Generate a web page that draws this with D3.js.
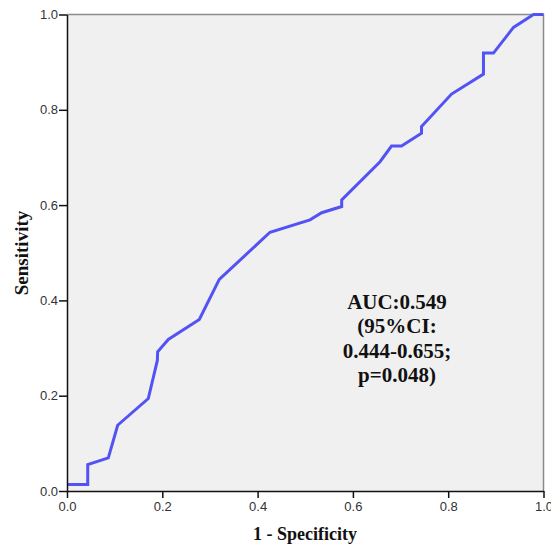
<!DOCTYPE html>
<html>
<head>
<meta charset="utf-8">
<script src="https://cdn.jsdelivr.net/npm/d3@7"></script>
<style>
  html, body { margin: 0; padding: 0; background: #fff; }
  svg { display: block; }
</style>
</head>
<body>
<div id="chart"></div>
<script>
// ROC curve data (1 - specificity, sensitivity)
const fpr = [0, 0.0435, 0.0435, 0.0867, 0.1063, 0.1706, 0.1896, 0.1902, 0.2126, 0.2777, 0.3196, 0.426, 0.510, 0.5345, 0.5765, 0.5765, 0.657, 0.681, 0.702, 0.744, 0.744, 0.807, 0.874, 0.874, 0.895, 0.937, 0.979, 1.0];
const tpr = [0.0136, 0.0136, 0.0556, 0.0696, 0.138, 0.194, 0.274, 0.292, 0.318, 0.360, 0.444, 0.543, 0.569, 0.584, 0.597, 0.611, 0.691, 0.724, 0.724, 0.751, 0.765, 0.833, 0.875, 0.919, 0.919, 0.973, 1.0, 1.0];
const tickValues = [0, 0.2, 0.4, 0.6, 0.8, 1.0];
const xTitle = "1 - Specificity";
const yTitle = "Sensitivity";
const annotation = ["AUC:0.549", "(95%CI:", "0.444-0.655;", "p=0.048)"];

const W = 551, H = 545;
const m = { left: 67, top: 14.5, right: 7.5, bottom: 54 };
const iw = W - m.left - m.right, ih = H - m.top - m.bottom;

const svg = d3.select("#chart").append("svg").attr("width", W).attr("height", H);
const g = svg.append("g").attr("transform", `translate(${m.left},${m.top})`);

const x = d3.scaleLinear().domain([0, 1]).range([0, iw]);
const y = d3.scaleLinear().domain([0, 1]).range([ih, 0]);

g.append("rect").attr("x", 0).attr("y", 0).attr("width", iw).attr("height", ih).attr("fill", "#f0f0f0");

// top/right frame
g.append("path").attr("d", `M0,0H${iw}V${ih}`).attr("fill", "none").attr("stroke", "#8a8a8a").attr("stroke-width", 1.5);

const pts = fpr.map((v, i) => [v, tpr[i]]);
g.append("path").datum(pts)
  .attr("fill", "none").attr("stroke", "#5353f5").attr("stroke-width", 3).attr("stroke-linejoin", "miter")
  .attr("d", d3.line().x(d => x(d[0])).y(d => y(d[1])));

const xAxis = g.append("g").attr("transform", `translate(0,${ih})`)
  .call(d3.axisBottom(x).tickValues(tickValues).tickFormat(d3.format(".1f")).tickSize(7).tickSizeOuter(0));
const yAxis = g.append("g")
  .call(d3.axisLeft(y).tickValues(tickValues).tickFormat(d3.format(".1f")).tickSize(8).tickSizeOuter(0));

[xAxis, yAxis].forEach(a => {
  a.select(".domain").attr("stroke", "#111").attr("stroke-width", 1.5);
  a.selectAll(".tick line").attr("stroke", "#111").attr("stroke-width", 1.5);
  a.selectAll(".tick text").attr("fill", "#333").style("font-family", "Liberation Sans, Arial, sans-serif").style("font-size", "13px");
});
xAxis.selectAll(".tick text").attr("dy", "0.71em").attr("y", 11);
yAxis.selectAll(".tick text").attr("x", -9);

svg.append("text").attr("x", 305).attr("y", 540).attr("text-anchor", "middle")
  .style("font-family", "Liberation Serif, Times New Roman, serif").style("font-weight", "bold").style("font-size", "18px")
  .attr("fill", "#111").text(xTitle);

svg.append("text").attr("transform", "translate(28,253) rotate(-90)").attr("text-anchor", "middle")
  .style("font-family", "Liberation Serif, Times New Roman, serif").style("font-weight", "bold").style("font-size", "19px")
  .attr("fill", "#111").text(yTitle);

const ann = svg.append("text").attr("text-anchor", "middle")
  .style("font-family", "Liberation Serif, Times New Roman, serif").style("font-weight", "bold").style("font-size", "21px")
  .attr("fill", "#111");
annotation.forEach((t, i) => {
  ann.append("tspan").attr("x", 397).attr("y", 309 + i * 24.3).text(t);
});
</script>
</body>
</html>
